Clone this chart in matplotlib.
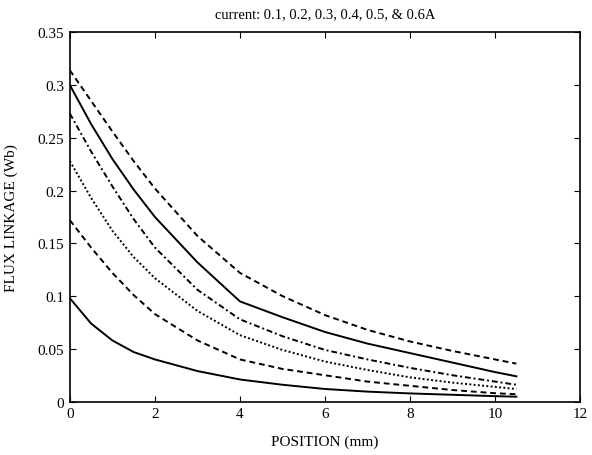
import matplotlib
matplotlib.use('Agg')
from matplotlib import pyplot as plt

plt.rcParams['font.family'] = ['Liberation Serif', 'DejaVu Serif']

# position (mm) at which the curves were read
position = [0, 0.5, 1, 1.5, 2, 3, 4, 5, 6, 7, 8, 9, 10, 10.5]

# flux linkage (Wb) for each current
flux_01 = [0.098, 0.074, 0.058, 0.047, 0.040, 0.029, 0.021, 0.016, 0.012, 0.0095, 0.0078, 0.0065, 0.0052, 0.0047]
flux_02 = [0.172, 0.146, 0.122, 0.101, 0.083, 0.058, 0.040, 0.031, 0.025, 0.019, 0.015, 0.011, 0.008, 0.007]
flux_03 = [0.228, 0.193, 0.162, 0.137, 0.117, 0.086, 0.063, 0.049, 0.038, 0.030, 0.023, 0.018, 0.014, 0.012]
flux_04 = [0.273, 0.237, 0.204, 0.173, 0.146, 0.106, 0.078, 0.062, 0.049, 0.040, 0.032, 0.025, 0.019, 0.016]
flux_05 = [0.300, 0.263, 0.230, 0.201, 0.175, 0.132, 0.095, 0.080, 0.066, 0.055, 0.046, 0.037, 0.028, 0.024]
flux_06 = [0.314, 0.285, 0.256, 0.228, 0.202, 0.157, 0.122, 0.100, 0.082, 0.068, 0.057, 0.048, 0.040, 0.036]

curves = [flux_01, flux_02, flux_03, flux_04, flux_05, flux_06]
# matlab line order: solid, dashed, dotted, dash-dot
styles = ['-', (0, (3, 2)), (0, (1, 1.2)), (0, (3, 1.5, 1, 1.5)), '-', (0, (3, 2))]

x_ticks = [0, 2, 4, 6, 8, 10, 12]
y_ticks = [0, 0.05, 0.1, 0.15, 0.2, 0.25, 0.3, 0.35]
y_labels = ['0', '0.05', '0.1', '0.15', '0.2', '0.25', '0.3', '0.35']

fig = plt.figure(figsize=(5.92, 4.56), dpi=100)
ax = fig.add_axes([0.118, 0.117, 0.862, 0.81])

for flux, ls in zip(curves, styles):
    ax.plot(position, flux, color='black', linestyle=ls, linewidth=1.4)

ax.set_xlim(0, 12)
ax.set_ylim(0, 0.35)
ax.set_xticks(x_ticks)
ax.set_yticks(y_ticks)
ax.set_yticklabels(y_labels)
ax.tick_params(direction='in', top=True, right=True, length=4, labelsize=11, pad=4)
for spine in ax.spines.values():
    spine.set_linewidth(1.2)

ax.set_title('current: 0.1, 0.2, 0.3, 0.4, 0.5, & 0.6A', fontsize=10.5, pad=11)
ax.set_xlabel('POSITION (mm)', fontsize=11, labelpad=10)
ax.set_ylabel('FLUX LINKAGE (Wb)', fontsize=11, labelpad=14)

fig.savefig('out.png', dpi=100)
